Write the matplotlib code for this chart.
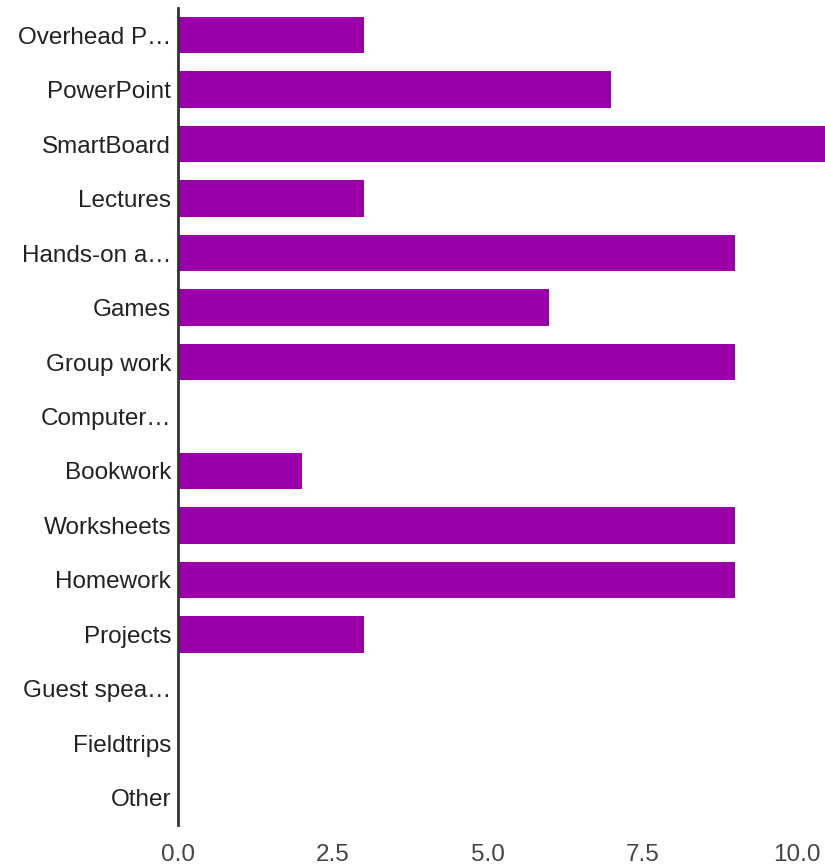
import numpy as np
import matplotlib.pyplot as plt

plt.rcParams['font.family'] = ['Liberation Sans', 'DejaVu Sans']

categories = ["Overhead P\u2026", "PowerPoint", "SmartBoard", "Lectures", "Hands-on a\u2026",
              "Games", "Group work", "Computer\u2026", "Bookwork", "Worksheets",
              "Homework", "Projects", "Guest spea\u2026", "Fieldtrips", "Other"]
counts = [3, 7, 11, 3, 9, 6, 9, 0, 2, 9, 9, 3, 0, 0, 0]
xticks = [0.0, 2.5, 5.0, 7.5, 10.0]

fig = plt.figure(figsize=(8.25, 8.67), dpi=100)
ax = fig.add_axes([178/825, 1-825/867, 1-178/825, 817/867])

y = np.arange(len(categories))
ax.barh(y, counts, height=0.67, color="#9900a9", zorder=2)

ax.set_ylim(len(categories)-0.5, -0.5)
ax.set_xlim(0, 10.45)
ax.set_yticks(y)
ax.set_yticklabels(categories, fontsize=17.5, color="#222222")
ax.set_xticks(xticks)
ax.set_xticklabels([f"{v:.1f}" for v in xticks], fontsize=17.5, color="#444444")
ax.tick_params(axis='y', length=0, pad=5)
ax.tick_params(axis='x', length=0, pad=14)

for s in ["top", "right", "bottom"]:
    ax.spines[s].set_visible(False)
ax.spines["left"].set_color("#333333")
ax.spines["left"].set_linewidth(2)
ax.spines["left"].set_zorder(3)

fig.savefig("out.png", dpi=100)
